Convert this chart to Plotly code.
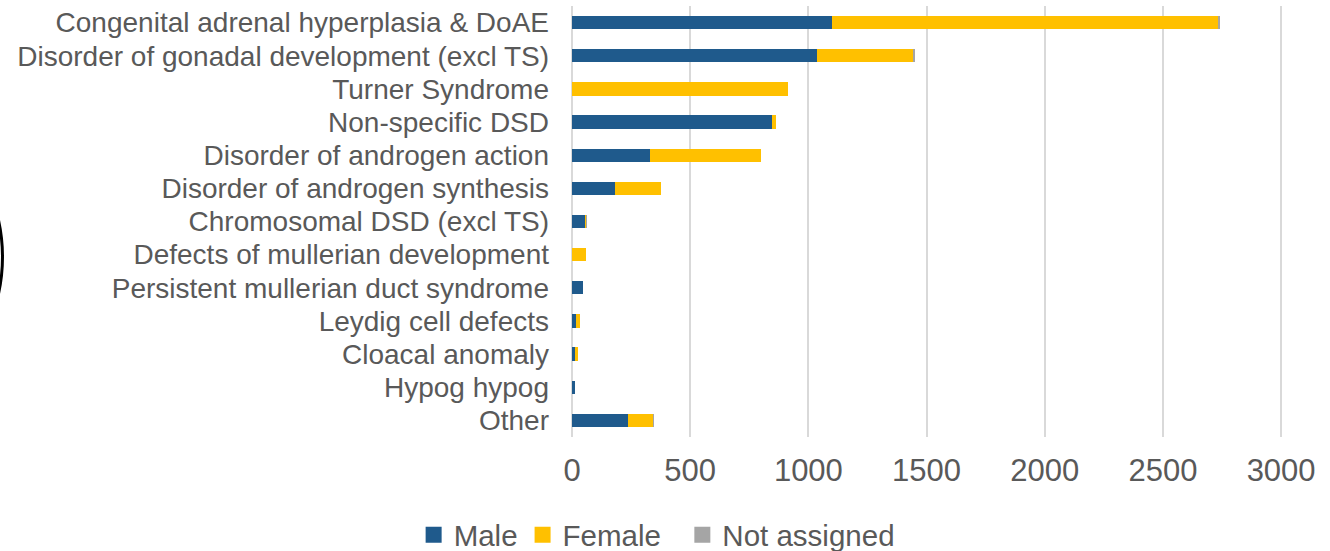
import plotly.graph_objects as go

categories = [
    "Congenital adrenal hyperplasia & DoAE",
    "Disorder of gonadal development (excl TS)",
    "Turner Syndrome",
    "Non-specific DSD",
    "Disorder of androgen action",
    "Disorder of androgen synthesis",
    "Chromosomal DSD (excl TS)",
    "Defects of mullerian development",
    "Persistent mullerian duct syndrome",
    "Leydig cell defects",
    "Cloacal anomaly",
    "Hypog hypog",
    "Other",
]
male = [1098, 1035, 0, 845, 330, 182, 55, 0, 45, 18, 12, 14, 239]
female = [1636, 407, 915, 20, 470, 195, 5, 59, 0, 17, 12, 0, 104]
not_assigned = [8, 11, 0, 0, 0, 0, 2, 0, 0, 0, 0, 0, 3]

x_ticks = [0, 500, 1000, 1500, 2000, 2500, 3000]

TEXT = "#595959"
FONT = "Liberation Sans, Arial, sans-serif"

series = [("Male", male, "#1F5A8C"),
          ("Female", female, "#FFC000"),
          ("Not assigned", not_assigned, "#A5A5A5")]
legend_names = ["Male", "Female\u00a0\u00a0", "Not assigned"]

fig = go.Figure()
for name, vals, col in series:
    fig.add_trace(go.Bar(y=categories, x=vals, name=name, orientation="h",
                         marker=dict(color=col, line=dict(width=0)),
                         showlegend=False))
# legend entries with larger square swatches
for (name, vals, col), lname in zip(series, legend_names):
    fig.add_trace(go.Scatter(x=[None], y=[None], mode="markers", name=lname,
                             marker=dict(symbol="square", size=17, color=col),
                             showlegend=True, hoverinfo="skip"))

fig.update_layout(
    barmode="stack",
    bargap=0.6,
    width=1330, height=551,
    margin=dict(l=572, r=47, t=6, b=114, autoexpand=False),
    plot_bgcolor="white", paper_bgcolor="white",
    font=dict(family=FONT, color=TEXT),
    showlegend=True,
    legend=dict(orientation="h", xref="container", yref="container",
                x=0.311, xanchor="left", y=0.029, yanchor="middle",
                font=dict(size=29.5, color=TEXT), traceorder="normal",
                itemwidth=30, bgcolor="rgba(0,0,0,0)", borderwidth=0),
    xaxis=dict(range=[0, 3008], tickvals=x_ticks, showgrid=True,
               gridcolor="#D9D9D9", gridwidth=2, zeroline=True,
               zerolinecolor="#D9D9D9", zerolinewidth=2,
               tickfont=dict(size=31, color=TEXT), ticks="", showline=False,
               ticklabelstandoff=12, automargin=False),
    yaxis=dict(categoryorder="array", categoryarray=categories, autorange="reversed",
               tickmode="array", tickvals=categories, ticktext=categories,
               tickfont=dict(size=28, color=TEXT), ticks="", showline=False,
               ticklabelstandoff=22, showgrid=False, automargin=False),
    shapes=[dict(type="circle", xref="paper", yref="paper",
                 x0=-1.2792, x1=-0.801, y0=0.0232, y1=0.812,
                 line=dict(color="black", width=3))],
)

fig.write_html("out.html", config={"displayModeBar": False},
               post_script="document.body.style.margin='0px';")
